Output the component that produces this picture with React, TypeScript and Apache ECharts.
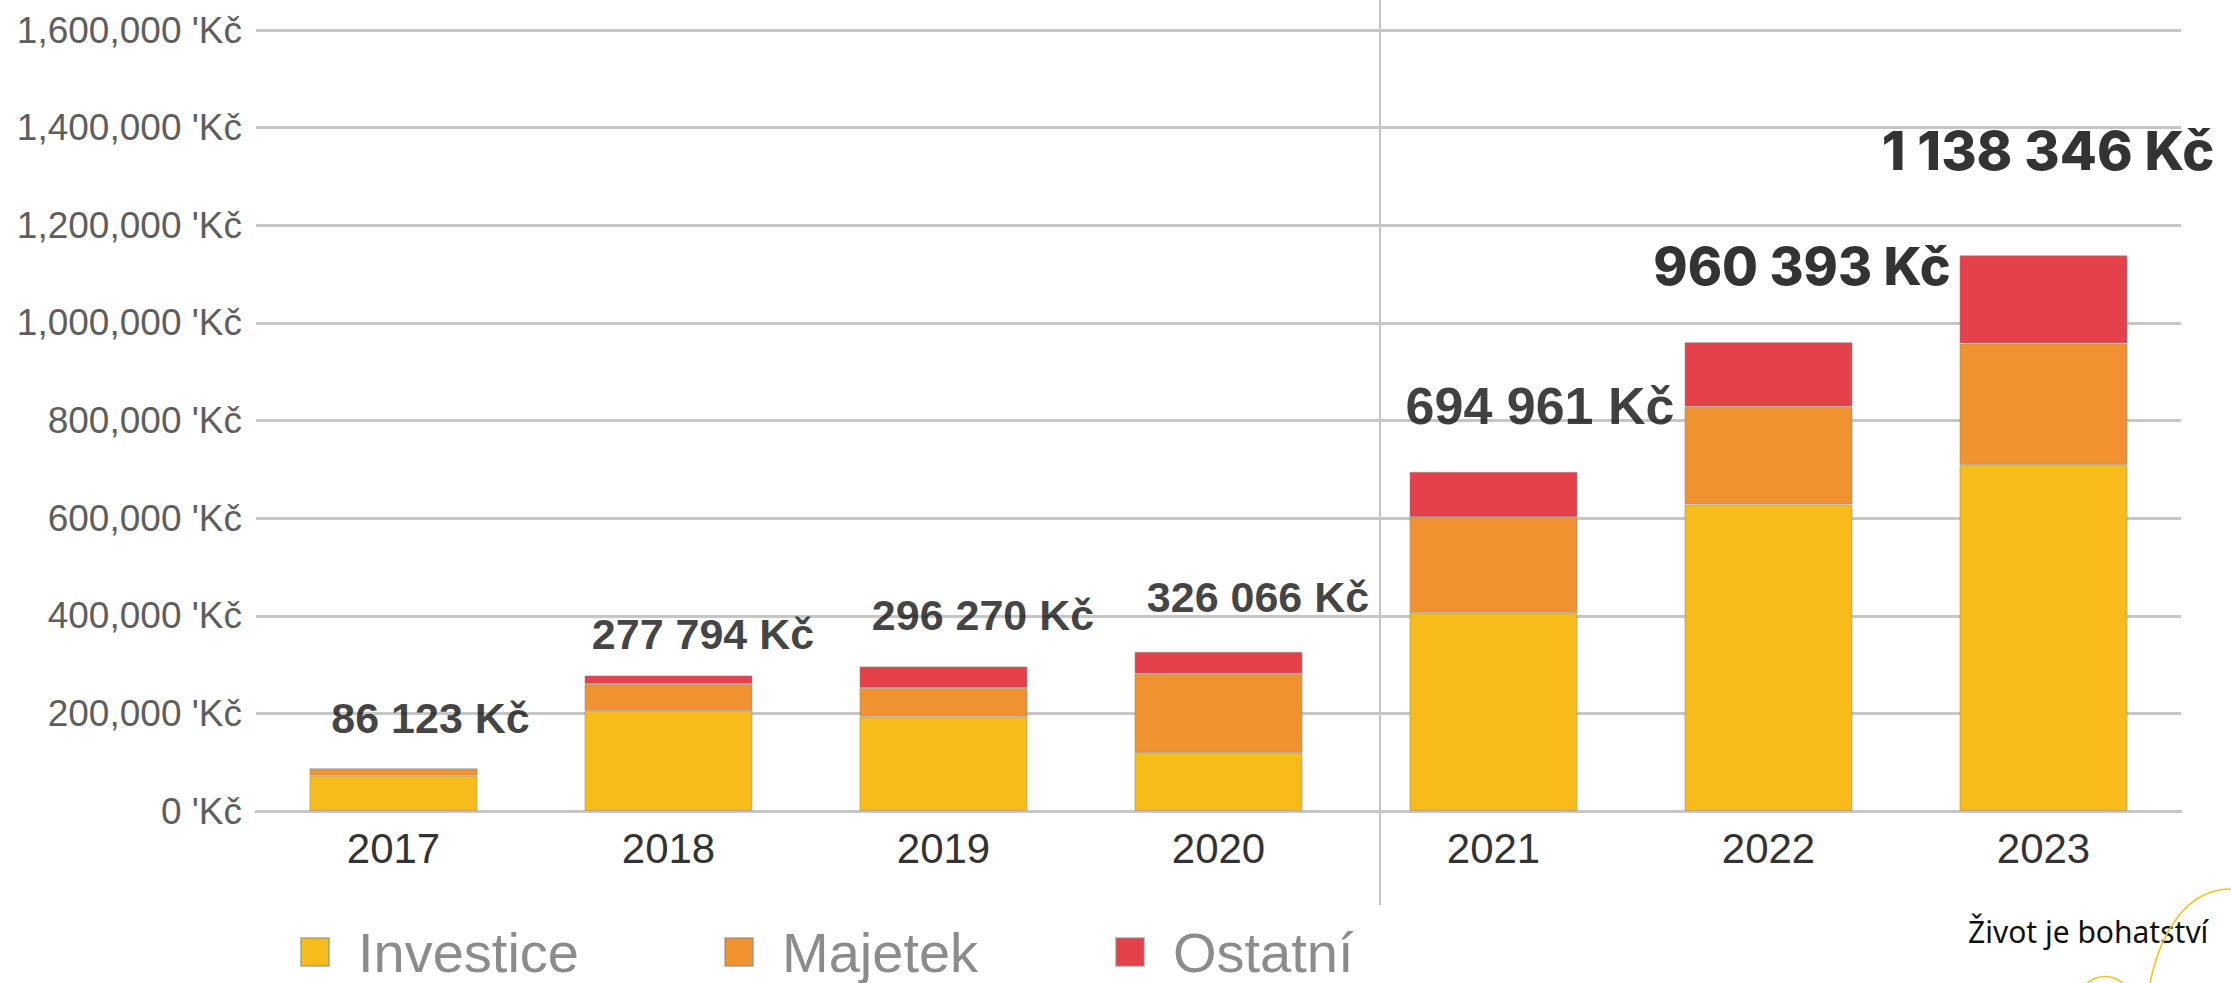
import React, { useEffect, useRef } from "react";
import * as echarts from "echarts";

const categories = ["2017", "2018", "2019", "2020", "2021", "2022", "2023"];
const investice = [72000, 205000, 193000, 119000, 406000, 628000, 709000];
const majetek = [14123, 55000, 59000, 162000, 196000, 200000, 249000];
const ostatni = [0, 17794, 44270, 45066, 92961, 132393, 180346];
const totals = [86123, 277794, 296270, 326066, 694961, 960393, 1138346];
const seriesNames = ["Investice", "Majetek", "Ostatní"];
const yTicks = { min: 0, max: 1600000, interval: 200000 };
const footerText = "Život je bohatství";

// label placement / style (not data)
const labelOffsets = [
  [37, -51],
  [34.5, -41],
  [39.5, -51],
  [39.5, -55],
  [46.5, -66],
  [33.5, -76],
  [4.5, -105],
];
const labelKinds = ["s", "s", "s", "s", "m", "l", "l2"];

const colors = ["#F8BC1A", "#EF922F", "#E4414A"];

function fmtSpace(n: number) {
  return String(n).replace(/\B(?=(\d{3})+(?!\d))/g, " ") + " Kč";
}

export default function App() {
  const ref = useRef<HTMLDivElement>(null);
  useEffect(() => {
    document.body.style.margin = "0";
    const chart = echarts.init(ref.current!, null, { renderer: "svg" });
    const barBase = {
      type: "bar",
      stack: "total",
      barWidth: 168,
      itemStyle: { borderColor: "rgba(140,140,140,0.55)", borderWidth: 1 },
      emphasis: { disabled: true },
    };
    const labelStyle = (k: string) => {
      if (k === "s")
        return { fontFamily: "Liberation Sans", fontWeight: "bold", fontSize: 43, color: "#111111" };
      if (k === "m")
        return { fontFamily: "Liberation Sans", fontWeight: "bold", fontSize: 52, color: "#111111" };
      if (k === "l")
        return { fontFamily: "Inter", fontWeight: 800, fontSize: 52, color: "#000" };
      return { fontFamily: "Inter", fontWeight: 800, fontSize: 54, color: "#000" };
    };
    const legendBase = (name: string, left: number) => ({
      data: [name],
      left,
      top: 917,
      orient: "horizontal",
      icon: "rect",
      itemWidth: 28,
      itemHeight: 28,
      selectedMode: false,
      textStyle: {
        fontFamily: "Liberation Sans",
        fontSize: 56,
        color: "#8c8c8c",
        padding: [0, 0, 0, 24],
        lineHeight: 60,
      },
    });
    chart.setOption({
      animation: false,
      backgroundColor: "#ffffff",
      color: colors,
      grid: { left: 256, right: 50, top: 30, bottom: 172, containLabel: false },
      legend: [
        legendBase(seriesNames[0], 295),
        legendBase(seriesNames[1], 719),
        legendBase(seriesNames[2], 1110),
      ],
      xAxis: {
        type: "category",
        data: categories,
        axisTick: { show: false },
        axisLine: { show: true, lineStyle: { color: "#c6c6c6", width: 3 } },
        axisLabel: {
          margin: 16,
          fontFamily: "Liberation Sans",
          fontSize: 42,
          color: "#333333",
        },
      },
      yAxis: {
        type: "value",
        min: yTicks.min,
        max: yTicks.max,
        interval: yTicks.interval,
        axisLine: { show: false },
        axisTick: { show: false },
        splitLine: { lineStyle: { color: "#c6c6c6", width: 3 } },
        axisLabel: {
          margin: 14,
          fontFamily: "Liberation Sans",
          fontSize: 37,
          color: "#5e5e5e",
          formatter: (v: number) => v.toLocaleString("en-US") + " 'Kč",
        },
      },
      series: [
        { ...barBase, name: seriesNames[0], data: investice },
        { ...barBase, name: seriesNames[1], data: majetek },
        { ...barBase, name: seriesNames[2], data: ostatni },
        {
          type: "scatter",
          name: "Celkem",
          symbolSize: 1,
          itemStyle: { color: "rgba(0,0,0,0)" },
          silent: true,
          z: 10,
          data: totals.map((t, i) => ({
            value: t,
            label: {
              show: true,
              position: "inside",
              align: "center",
              verticalAlign: "middle",
              offset: labelOffsets[i],
              formatter: () => fmtSpace(t),
              ...labelStyle(labelKinds[i]),
            },
          })),
        },
      ],
      graphic: [
        {
          type: "line",
          shape: { x1: 1380, y1: 0, x2: 1380, y2: 905 },
          style: { stroke: "#c2c2c2", lineWidth: 2 },
          silent: true,
        },
        {
          type: "text",
          x: 1968,
          y: 931,
          style: {
            text: footerText,
            font: "30px 'Noto Sans'",
            fill: "#111111",
            verticalAlign: "middle",
            align: "left",
          },
        },
        {
          type: "bezierCurve",
          shape: { x1: 2231, y1: 889, cpx1: 2185, cpy1: 889, cpx2: 2160, cpy2: 935, x2: 2150, y2: 983 },
          style: { stroke: "#F5C21B", lineWidth: 1.6, fill: "none" },
          silent: true,
        },
        {
          type: "bezierCurve",
          shape: { x1: 2086, y1: 984, cpx1: 2098, cpy1: 974, cpx2: 2112, cpy2: 974, x2: 2124, y2: 984 },
          style: { stroke: "#F5C21B", lineWidth: 1.6, fill: "none" },
          silent: true,
        },
      ],
    });
    return () => chart.dispose();
  }, []);
  return <div ref={ref} style={{ width: 2231, height: 983 }} />;
}
